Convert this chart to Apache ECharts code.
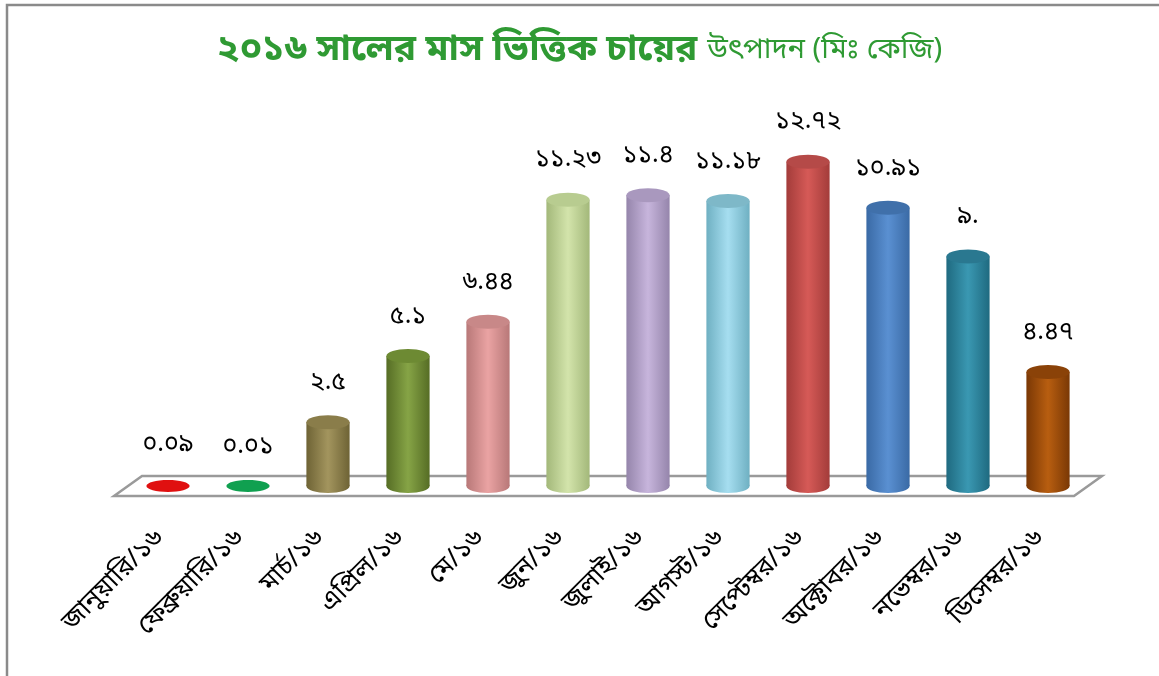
<!DOCTYPE html>
<html>
<head>
<meta charset="utf-8">
<script src="https://cdn.jsdelivr.net/npm/echarts@6/dist/echarts.min.js"></script>
<style>
html,body{margin:0;padding:0;background:#fff;}
#chart{width:1159px;height:676px;}
</style>
</head>
<body>
<div id="chart"></div>
<script>
// ---- data ----
const months = ['জানুয়ারি/১৬','ফেব্রুয়ারি/১৬','মার্চ/১৬','এপ্রিল/১৬','মে/১৬','জুন/১৬','জুলাই/১৬','আগস্ট/১৬','সেপ্টেম্বর/১৬','অক্টোবর/১৬','নভেম্বর/১৬','ডিসেম্বর/১৬'];
const production = [0.09, 0.01, 2.5, 5.1, 6.44, 11.23, 11.4, 11.18, 12.72, 10.91, 9.0, 4.47];
const valueLabels = ['০.০৯','০.০১','২.৫','৫.১','৬.৪৪','১১.২৩','১১.৪','১১.১৮','১২.৭২','১০.৯১','৯.','৪.৪৭'];
const titleMain = '২০১৬ সালের মাস ভিত্তিক চায়ের';
const titleSub = 'উৎপাদন (মিঃ কেজি)';

// ---- styles ----
// [edge (dark), centre (light), top cap]
const barColors = [
  ['#b80000','#e01010','#cc0000'],
  ['#00803a','#10a050','#009040'],
  ['#6e6335','#a3955e','#8a7d4a'],
  ['#566d25','#86a446','#6d8a33'],
  ['#b87878','#eaa3a3','#c88888'],
  ['#a3b87a','#d3e4ab','#b8cc90'],
  ['#9585ab','#c7b5dc','#a998be'],
  ['#6fb0c2','#a6def0','#7eb8c8'],
  ['#a33c3a','#d65a57','#b54a48'],
  ['#3a6aa5','#5a90d2','#4070aa'],
  ['#1f6a80','#3a98b2','#2a7890'],
  ['#7a3805','#b85e10','#8a4208']
];
const FONT = '"Noto Sans Bengali","Noto Sans","DejaVu Sans",sans-serif';

const chart = echarts.init(document.getElementById('chart'), null, {renderer:'canvas'});

const option = {
  backgroundColor:'#fff',
  animation:false,
  title:{
    left:'center', top:29,
    text:'{a|' + titleMain + '}  {b|' + titleSub + '}',
    textStyle:{
      rich:{
        a:{fontFamily:FONT, fontSize:37, fontWeight:'bold', color:'#2f9a33'},
        b:{fontFamily:FONT, fontSize:29, fontWeight:'normal', color:'#2f9a33'}
      }
    }
  },
  grid:{left:128, right:71, top:78, bottom:190},
  xAxis:{
    type:'category', data:months,
    axisLine:{show:false}, axisTick:{show:false}, splitLine:{show:false},
    axisLabel:{rotate:45, interval:0, margin:42, padding:[0,10,0,0],
      fontFamily:FONT, fontSize:26, color:'#000'}
  },
  yAxis:{type:'value', min:0, max:16, show:false, splitLine:{show:false}},
  graphic:[],
  series:[{
    type:'custom',
    data:production.map((v,i)=>[i,v]),
    z:5,
    renderItem:function(params, api){
      const i = api.value(0), v = api.value(1);
      const base = api.coord([i,0]);
      const top = api.coord([i,v]);
      const band = api.size([1,0])[0];
      const rx = band*0.27, ry = 7;
      const c = barColors[i];
      const grad = new echarts.graphic.LinearGradient(0,0,1,0,[
        {offset:0,color:c[0]},{offset:0.5,color:c[1]},{offset:1,color:c[0]}
      ]);
      const children = [];
      const h = base[1]-top[1];
      if (h > 3) {
        children.push({type:'ellipse', shape:{cx:base[0], cy:base[1], rx:rx, ry:ry}, style:{fill:grad}});
        children.push({type:'rect', shape:{x:base[0]-rx, y:top[1], width:rx*2, height:h}, style:{fill:grad}});
        children.push({type:'ellipse', shape:{cx:top[0], cy:top[1], rx:rx, ry:ry}, style:{fill:c[2]}});
      } else {
        children.push({type:'ellipse', shape:{cx:base[0], cy:base[1], rx:rx, ry:ry*0.85}, style:{fill:c[1]}});
      }
      children.push({type:'text', x:top[0], y:top[1]-38,
        style:{text:valueLabels[i], fill:'#000', font:'25px ' + FONT, align:'center', verticalAlign:'middle'}});
      return {type:'group', children:children};
    }
  }]
};
chart.setOption(option);

// floor plane and frame, positioned from the axes
const p0 = chart.convertToPixel({gridIndex:0}, [0,0]);
const pN = chart.convertToPixel({gridIndex:0}, [months.length-1,0]);
const band = pN[0]-p0[0] > 0 ? (pN[0]-p0[0])/(months.length-1) : 80;
const leftX = p0[0]-band/2, rightX = pN[0]+band/2, by = p0[1];
const dx = 14, dy = 10;
chart.setOption({graphic:[
  {type:'polygon', z:1, shape:{points:[[leftX+dx,by-dy],[rightX+dx,by-dy],[rightX-dx,by+dy],[leftX-dx,by+dy]]},
   style:{fill:'#fff', stroke:'#9a9a9a', lineWidth:2.5}},
  {type:'rect', z:0, shape:{x:7,y:5,width:1200,height:700}, style:{fill:'none', stroke:'#8a8a8a', lineWidth:2.5}}
]});
</script>
</body>
</html>
